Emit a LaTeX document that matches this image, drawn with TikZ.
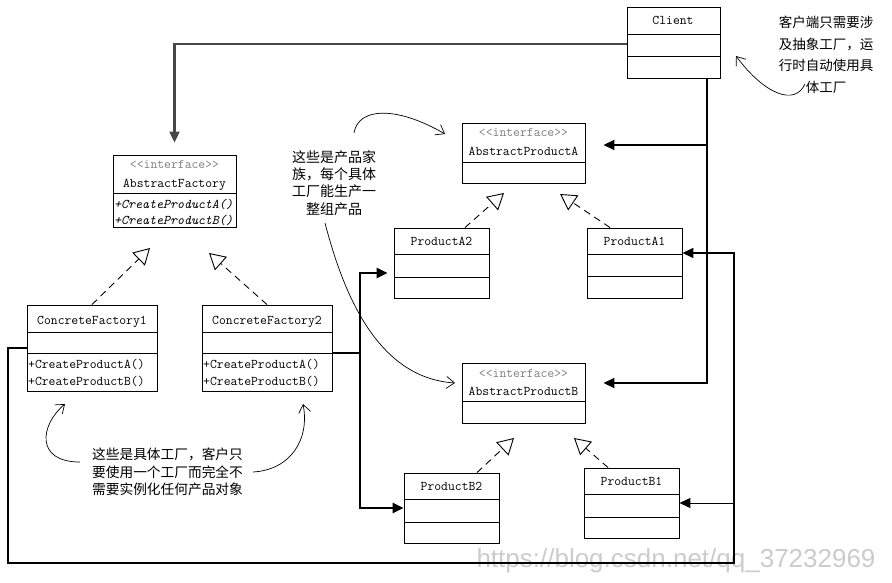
\documentclass[tikz,border=0pt]{standalone}
\usepackage{fontspec}
\newfontfamily\cjk{Noto Sans CJK SC}
\newfontfamily\wmfont{Liberation Sans}
\usetikzlibrary{arrows.meta,fit}
\newcommand\umlbox[5]{\node[umlrect, fit={(#2,#3) (#4,#5)}] (#1) {};}
\newcommand\umldiv[3]{\draw[divline] (#1,#3) -- (#2,#3);}
\begin{document}
\begin{tikzpicture}[x=1pt,y=-1pt,
  umlrect/.style={draw, line width=0.9pt, inner sep=0pt},
  divline/.style={line width=0.9pt},
  lbl/.style={font=\fontsize{13.3}{16}\selectfont\ttfamily, inner sep=0pt, anchor=base},
  iface/.style={lbl, text=black!50},
  op/.style={lbl, anchor=base west},
  opit/.style={op, font=\fontsize{13.3}{16}\selectfont\ttfamily\itshape},
  note/.style={inner sep=0pt, align=center},
  fillarrow/.style={-{Triangle[length=11pt,width=10pt]}},
  graylink/.style={draw=black!72, line width=2.2pt},
  bus/.style={line width=1.8pt},
  thickbus/.style={line width=2.4pt},
  loopline/.style={line width=1.5pt},
  realize/.style={line width=0.9pt, dash pattern=on 7pt off 5pt, -{Triangle[open, length=16pt, width=18pt, line width=0.9pt]}},
  remark/.style={line width=0.7pt, -{Straight Barb[length=8pt,width=12pt,line width=0.7pt]}},
]
\useasboundingbox[fill=white] (0,0) rectangle (892,583);

% ---- watermark
\node[inner sep=0pt, anchor=base, font=\fontsize{26}{30}\selectfont\wmfont, text=black!20] (wm) at (676,567) {https://blog.csdn.net/qq\_37232969};

% ---- boxes
\umlbox{client}{627}{7}{720}{78}
\umldiv{627}{720}{34}\umldiv{627}{720}{56}
\node[lbl] (tclient) at (673,25) {Client};

\umlbox{af}{113}{155}{236}{227}
\umldiv{113}{236}{193}
\node[iface] (taf1) at (174.5,169) {<<interface>>};
\node[lbl] (taf2) at (174.5,188) {AbstractFactory};
\node[opit] (taf3) at (114,208) {+CreateProductA()};
\node[opit] (taf4) at (114,225) {+CreateProductB()};

\umlbox{cf1}{27}{305}{157}{391}
\umldiv{27}{157}{332}\umldiv{27}{157}{353}
\node[lbl] (tcf1) at (92,324) {ConcreteFactory1};
\node[op] (tcf1a) at (28,368) {+CreateProductA()};
\node[op] (tcf1b) at (28,385) {+CreateProductB()};

\umlbox{cf2}{202}{305}{332}{391}
\umldiv{202}{332}{332}\umldiv{202}{332}{353}
\node[lbl] (tcf2) at (267,324) {ConcreteFactory2};
\node[op] (tcf2a) at (203,368) {+CreateProductA()};
\node[op] (tcf2b) at (203,385) {+CreateProductB()};

\umlbox{apa}{462}{123}{585}{183}
\umldiv{462}{585}{162}
\node[iface] (tapa1) at (523.5,137) {<<interface>>};
\node[lbl] (tapa2) at (523.5,156) {AbstractProductA};

\umlbox{pa2}{394}{228}{489}{298}
\umldiv{394}{489}{254}\umldiv{394}{489}{277}
\node[lbl] (tpa2) at (441.5,245) {ProductA2};

\umlbox{pa1}{587}{228}{682}{298}
\umldiv{587}{682}{254}\umldiv{587}{682}{276}
\node[lbl] (tpa1) at (634.5,245) {ProductA1};

\umlbox{apb}{462}{363}{585}{423}
\umldiv{462}{585}{401}
\node[iface] (tapb1) at (523.5,377) {<<interface>>};
\node[lbl] (tapb2) at (523.5,395) {AbstractProductB};

\umlbox{pb2}{404}{473}{499}{543}
\umldiv{404}{499}{499}\umldiv{404}{499}{522}
\node[lbl] (tpb2) at (451.5,490) {ProductB2};

\umlbox{pb1}{584}{468}{679}{538}
\umldiv{584}{679}{494}\umldiv{584}{679}{517}
\node[lbl] (tpb1) at (631.5,485) {ProductB1};

% ---- client associations
\draw[graylink, fillarrow, shorten >=12pt] ([yshift=-1.5pt]client.west) -| (af.north);
\coordinate (trunk) at (707,0);
\coordinate (apaIn) at ([yshift=8pt]apa.east);
\coordinate (apbIn) at ([yshift=10pt]apb.east);
\draw[bus, fillarrow, shorten >=18pt] (client.south -| trunk) |- (apbIn);
\draw[bus, fillarrow, shorten >=18pt] (apaIn -| trunk) -- (apaIn);

% ---- ConcreteFactory2 creates
\coordinate (bus2) at (360,0);
\coordinate (cf2out) at ([yshift=-5pt]cf2.east);
\coordinate (pa2In) at ([yshift=-10pt]pa2.west);
\draw[thickbus] (cf2out) -- (cf2out -| bus2);
\draw[thickbus, fillarrow, shorten >=6pt] (cf2out -| bus2) |- (pa2In);
\draw[thickbus, fillarrow] (cf2out -| bus2) |- (pb2.west);

% ---- ConcreteFactory1 creates
\coordinate (loopL) at (8,563);
\coordinate (loopR) at (734,563);
\coordinate (pa1In) at ([yshift=10pt]pa1.east);
\draw[loopline, fillarrow, line join=miter] (cf1.west) -| (loopL) -- (loopR) |- (pa1In);
\draw[line width=1pt, fillarrow] (pb1.east -| loopR) -- (pb1.east);

% ---- realizations
\coordinate (tipcf1) at (150,248);
\coordinate (tipcf2) at (209,253);
\coordinate (tippa2) at (504,193);
\coordinate (tippa1) at (560,194);
\coordinate (tippb2) at (514,438);
\coordinate (tippb1) at (574,438);
\draw[realize] (cf1.north) -- (tipcf1);
\draw[realize] (cf2.north) -- (tipcf2);
\draw[realize] ([xshift=23.5pt]pa2.north) -- (tippa2);
\draw[realize] ([xshift=-24.5pt]pa1.north) -- (tippa1);
\draw[realize] ([xshift=25.5pt]pb2.north) -- (tippb2);
\draw[realize] ([xshift=-23.5pt]pb1.north) -- (tippb1);

% ---- notes
\node[note, font=\fontsize{13.5}{21.5}\selectfont\cjk] (n1) at (826,55) {客户端只需要涉\\及抽象工厂，运\\行时自动使用具\\体工厂};
\node[note, font=\fontsize{14}{17.3}\selectfont\cjk] (n2) at (334,183) {这些是产品家\\族，每个具体\\工厂能生产一\\整组产品};
\node[note, font=\fontsize{13.7}{17.5}\selectfont\cjk] (n3) at (167.5,472) {这些是具体工厂，客户只\\要使用一个工厂而完全不\\需要实例化任何产品对象};

\coordinate (r1s) at (805,84);   \coordinate (r1e) at (736,56);
\coordinate (r2s) at (354,133);  \coordinate (r2e) at (445,134);
\coordinate (r3s) at (325,223);  \coordinate (r3e) at (455,383);
\coordinate (r4s) at (80,462);   \coordinate (r4e) at (65,404);
\coordinate (r5s) at (253,472);  \coordinate (r5e) at (303,404);
\draw[remark] (r1s) .. controls (795,106) and (765,95) .. (r1e);
\draw[remark] (r2s) .. controls (358,108) and (395,105) .. (r2e);
\draw[remark] (r3s) .. controls (345,300) and (380,378) .. (r3e);
\draw[remark] (r4s) .. controls (35,462) and (40,425) .. (r4e);
\draw[remark] (r5s) .. controls (290,470) and (310,440) .. (r5e);
\end{tikzpicture}
\end{document}
